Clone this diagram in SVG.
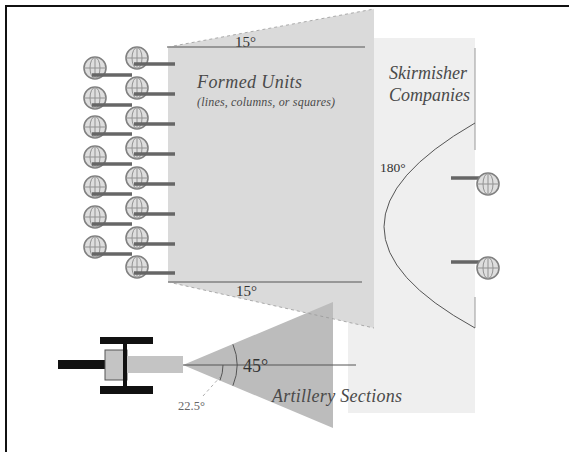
<svg xmlns="http://www.w3.org/2000/svg" xmlns:xlink="http://www.w3.org/1999/xlink" width="569" height="452" viewBox="0 0 569 452">
<style>
.lbl{font-family:"Liberation Serif","Times New Roman",serif;font-style:italic;fill:#4a4a4a}
.num{font-family:"Liberation Serif","Times New Roman",serif;fill:#333}
.musket{stroke:#666;stroke-width:3.5;stroke-linecap:butt}
.thin{stroke:#555;stroke-width:1;fill:none}
.dash{stroke:#999;stroke-width:0.8;stroke-dasharray:3 3;fill:none}
.blk{fill:#111}
</style>
<defs>
<g id="globe">
<circle r="11" fill="#dedede" stroke="#808080" stroke-width="1.6"/>
<ellipse rx="5" ry="10.5" fill="none" stroke="#929292" stroke-width="1"/>
<line x1="-11" y1="0" x2="11" y2="0" stroke="#929292" stroke-width="1"/>
<line x1="0" y1="-11" x2="0" y2="11" stroke="#929292" stroke-width="1"/>
</g>
</defs>
<rect width="569" height="452" fill="#fff"/>
<!-- frame -->
<path d="M6 452 V6 H569" fill="none" stroke="#111" stroke-width="2"/>

<!-- zones -->
<g id="skirmisher-zone">
<rect x="348" y="38" width="127" height="375" fill="#efefef"/>
<line x1="475" y1="48" x2="475" y2="150" stroke="#999" stroke-width="1"/>
<line x1="475" y1="297" x2="475" y2="328" stroke="#999" stroke-width="1"/>
<path d="M475 123 Q293 228 475 328" class="thin" stroke="#888"/>
<text class="lbl" x="389" y="79" font-size="18">Skirmisher</text>
<text class="lbl" x="389" y="101" font-size="18">Companies</text>
<text class="num" x="380" y="172" font-size="13.5">180°</text>
</g>
<g id="formed-zone">
<polygon points="168,47 374,9 374,328 168,282" fill="#dadada"/>
<text class="lbl" x="197" y="88" font-size="18" textLength="105">Formed Units</text>
<text class="lbl" x="197" y="106" font-size="12" textLength="138">(lines, columns, or squares)</text>
<text class="num" x="235" y="47" font-size="15">15°</text>
<text class="num" x="236" y="296" font-size="15">15°</text>
</g>
<g id="artillery-zone">
<polygon points="183,365 333,302 333,428" fill="#bcbcbc"/>
<text class="num" x="243" y="372" font-size="18">45°</text>
<text class="lbl" x="272" y="402" font-size="18" textLength="130">Artillery Sections</text>
<text class="num" x="178" y="410" font-size="12.5" style="fill:#666">22.5°</text>
</g>

<g id="connectors">
<line x1="167" y1="47" x2="365" y2="47" class="thin" stroke="#666"/>
<line x1="168" y1="282" x2="362" y2="282" class="thin" stroke="#666"/>
<line x1="168" y1="47" x2="374" y2="9" class="dash"/>
<line x1="168" y1="282" x2="374" y2="328" class="dash"/>
<line x1="183" y1="365" x2="356" y2="365" class="thin" stroke="#444"/>
<path d="M232.9 344.3 A54 54 0 0 1 232.9 385.7" class="thin" stroke="#444"/>
<path d="M223 365 A40 40 0 0 1 220 380.3" class="thin" stroke="#444"/>
<line x1="203" y1="396" x2="221" y2="376" class="dash"/>
</g>

<g id="artillery-gun">
<rect class="blk" x="58" y="360" width="49" height="9"/>
<rect class="blk" x="100" y="337" width="53" height="7"/>
<rect class="blk" x="100" y="386" width="53" height="8"/>
<rect x="105" y="350" width="22" height="30" fill="#c4c4c4" stroke="#555" stroke-width="1"/>
<rect class="blk" x="123" y="342" width="4" height="45"/>
<rect x="127" y="356" width="56" height="17" fill="#c4c4c4"/>
</g>

<g id="formed-right">
<g id="fr1"><use xlink:href="#globe" x="137" y="58"/><line class="musket" x1="134" y1="64" x2="175" y2="64"/></g>
<g id="fr2"><use xlink:href="#globe" x="137" y="88"/><line class="musket" x1="134" y1="94" x2="175" y2="94"/></g>
<g id="fr3"><use xlink:href="#globe" x="137" y="118"/><line class="musket" x1="134" y1="124" x2="175" y2="124"/></g>
<g id="fr4"><use xlink:href="#globe" x="137" y="148"/><line class="musket" x1="134" y1="154" x2="175" y2="154"/></g>
<g id="fr5"><use xlink:href="#globe" x="137" y="178"/><line class="musket" x1="134" y1="184" x2="175" y2="184"/></g>
<g id="fr6"><use xlink:href="#globe" x="137" y="208"/><line class="musket" x1="134" y1="214" x2="175" y2="214"/></g>
<g id="fr7"><use xlink:href="#globe" x="137" y="238"/><line class="musket" x1="134" y1="244" x2="175" y2="244"/></g>
<g id="fr8"><use xlink:href="#globe" x="137" y="267"/><line class="musket" x1="134" y1="273" x2="175" y2="273"/></g>
</g>
<g id="formed-left">
<g id="fl1"><use xlink:href="#globe" x="95" y="68"/><line class="musket" x1="92" y1="75" x2="132" y2="75"/></g>
<g id="fl2"><use xlink:href="#globe" x="95" y="98"/><line class="musket" x1="92" y1="105" x2="132" y2="105"/></g>
<g id="fl3"><use xlink:href="#globe" x="95" y="127"/><line class="musket" x1="92" y1="134" x2="132" y2="134"/></g>
<g id="fl4"><use xlink:href="#globe" x="95" y="157"/><line class="musket" x1="92" y1="164" x2="132" y2="164"/></g>
<g id="fl5"><use xlink:href="#globe" x="95" y="187"/><line class="musket" x1="92" y1="194" x2="132" y2="194"/></g>
<g id="fl6"><use xlink:href="#globe" x="95" y="217"/><line class="musket" x1="92" y1="224" x2="132" y2="224"/></g>
<g id="fl7"><use xlink:href="#globe" x="95" y="247"/><line class="musket" x1="92" y1="254" x2="132" y2="254"/></g>
</g>
<g id="skirmishers">
<g id="sk1"><line class="musket" x1="451" y1="178" x2="486" y2="178"/><use xlink:href="#globe" x="488" y="184"/></g>
<g id="sk2"><line class="musket" x1="451" y1="262" x2="486" y2="262"/><use xlink:href="#globe" x="488" y="268"/></g>
</g>
</svg>
